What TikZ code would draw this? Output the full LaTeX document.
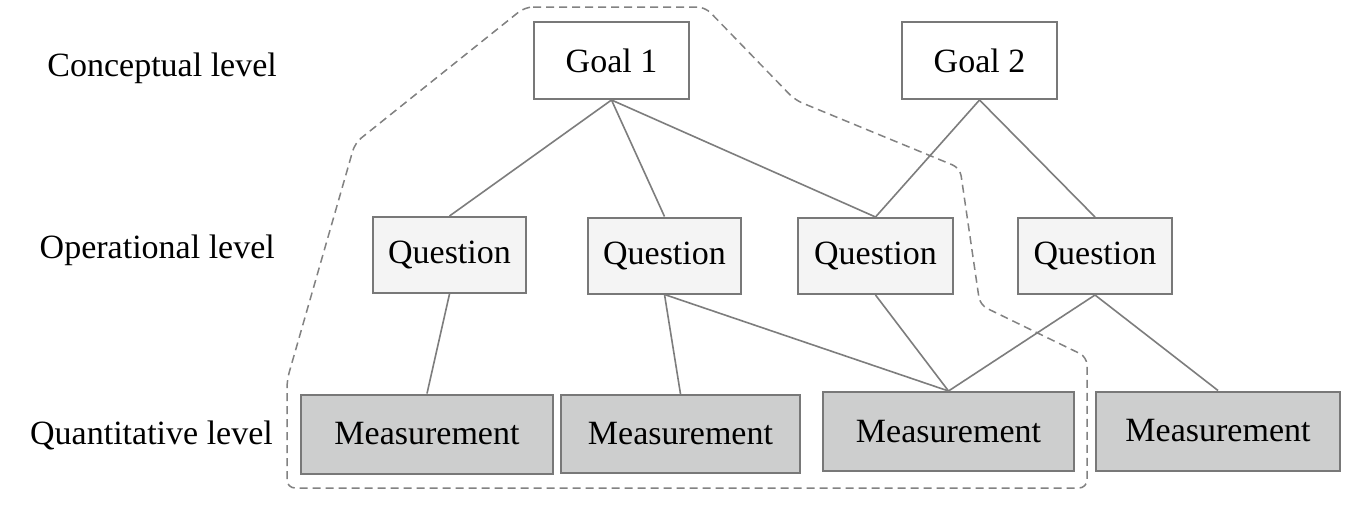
\documentclass[tikz,border=0pt]{standalone}
\usepackage{fontspec}
\setmainfont{Liberation Serif}
\definecolor{boxline}{RGB}{120,120,120}
\definecolor{conline}{RGB}{125,125,125}
\definecolor{qfill}{RGB}{244,244,244}
\definecolor{mfill}{RGB}{205,206,206}
\definecolor{dashcol}{RGB}{130,130,130}
\begin{document}
\begin{tikzpicture}[x=1pt,y=-1pt,
  every node/.style={font=\fontsize{34}{40}\selectfont, inner sep=0pt},
  box/.style={draw=boxline, line width=2pt},
  goalbox/.style={box, fill=white},
  qbox/.style={box, fill=qfill},
  mbox/.style={box, fill=mfill},
  link/.style={draw=conline, line width=1.6pt},
  lvl/.style={anchor=east},
  outline/.style={draw=dashcol, line width=1.5pt, dash pattern=on 8pt off 5pt, rounded corners=8pt}
]
\useasboundingbox (0,0) rectangle (1371,515);
\fill[white] (0,0) rectangle (1371,515);

% dashed region
\draw[outline] (525,7) -- (705,7) -- (795,100) -- (960,168) -- (980,305) -- (1087,357) -- (1087,488) -- (287,488) -- (287,380) -- (355,143) -- cycle;

% level labels
\node[lvl] (lc) at (277,68) {Conceptual level};
\node[lvl] (lo) at (275,250) {Operational level};
\node[lvl] (lq) at (273,435) {Quantitative level};

% goals
\node[goalbox, minimum width=155pt, minimum height=77pt] (g1) at (611.5,60.5) {Goal 1};
\node[goalbox, minimum width=155pt, minimum height=77pt] (g2) at (979.5,60.5) {Goal 2};

% questions
\node[qbox, minimum width=153pt, minimum height=76pt] (q1) at (449.5,255) {Question};
\node[qbox, minimum width=153pt, minimum height=76pt] (q2) at (664.5,255.5) {Question};
\node[qbox, minimum width=155pt, minimum height=76pt] (q3) at (875.5,256) {Question};
\node[qbox, minimum width=154pt, minimum height=76pt] (q4) at (1095,256) {Question};

% measurements
\node[mbox, minimum width=252pt, minimum height=79pt] (m1) at (427,434) {Measurement};
\node[mbox, minimum width=239pt, minimum height=78pt] (m2) at (680.5,434) {Measurement};
\node[mbox, minimum width=251pt, minimum height=79pt] (m3) at (948.5,431.5) {Measurement};
\node[mbox, minimum width=244pt, minimum height=79pt] (m4) at (1218,431) {Measurement};

% connectors
\draw[link] (g1.south) -- (q1.north);
\draw[link] (g1.south) -- (q2.north);
\draw[link] (g1.south) -- (q3.north);
\draw[link] (g2.south) -- (q3.north);
\draw[link] (g2.south) -- (q4.north);
\draw[link] (q1.south) -- (m1.north);
\draw[link] (q2.south) -- (m2.north);
\draw[link] (q2.south) -- (m3.north);
\draw[link] (q3.south) -- (m3.north);
\draw[link] (q4.south) -- (m3.north);
\draw[link] (q4.south) -- (m4.north);
\end{tikzpicture}
\end{document}
